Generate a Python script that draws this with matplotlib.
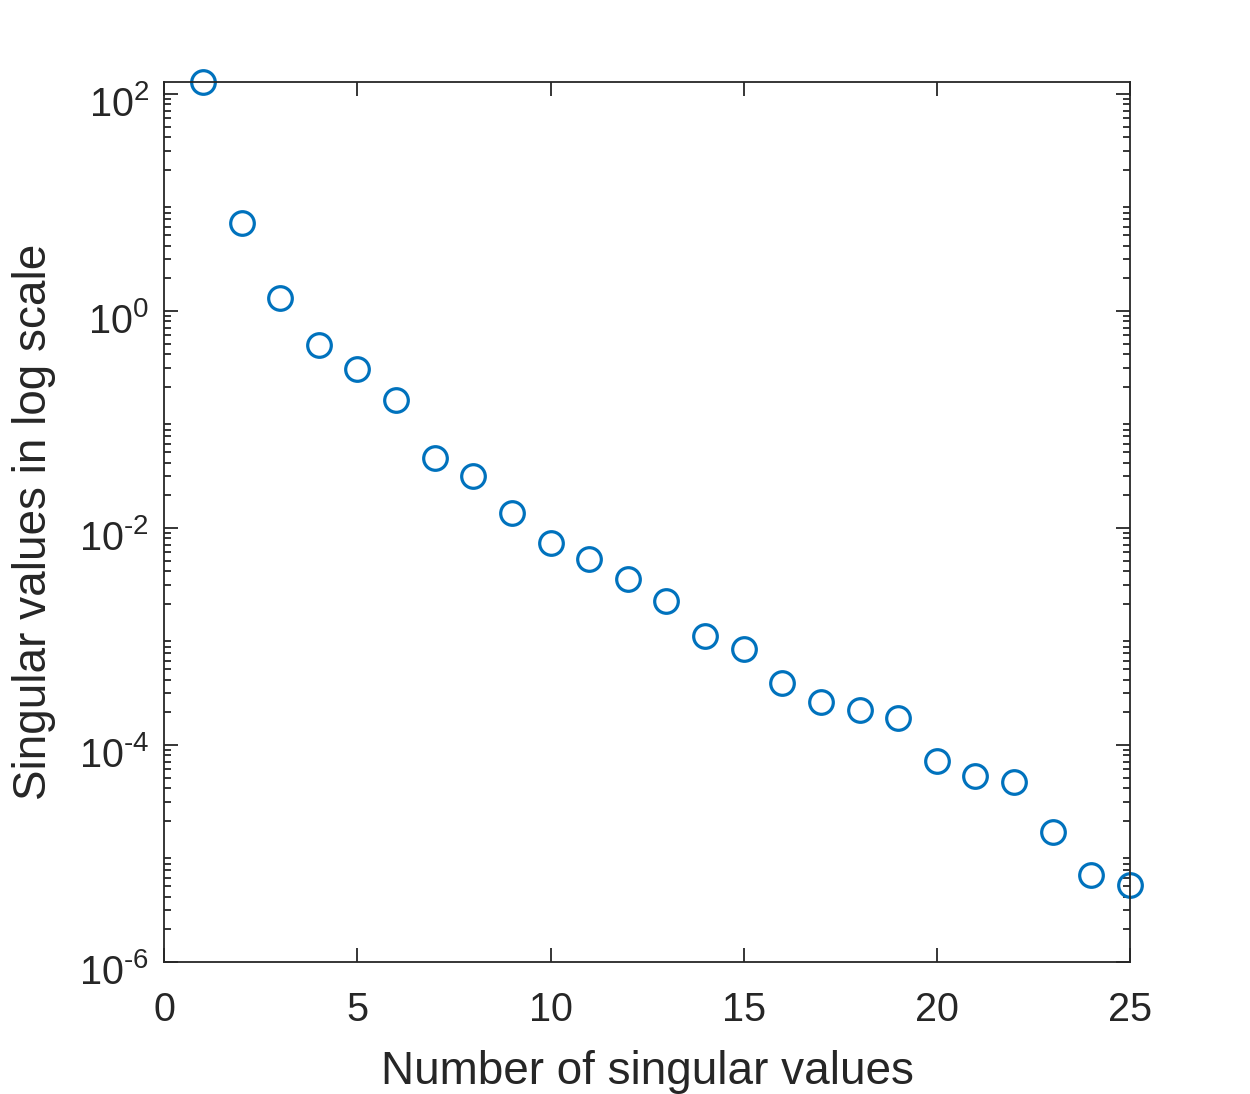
import matplotlib
matplotlib.use("Agg")
import matplotlib.pyplot as plt
import matplotlib.transforms as mtransforms
from matplotlib.ticker import LogLocator, NullFormatter

plt.rcParams['font.family'] = ['Liberation Sans', 'DejaVu Sans']
plt.rcParams['mathtext.fontset'] = 'custom'
plt.rcParams['mathtext.rm'] = 'Liberation Sans'
plt.rcParams['mathtext.it'] = 'Liberation Sans'
plt.rcParams['axes.unicode_minus'] = False

index = list(range(1, 26))
singular_values = [129, 6.45, 1.32, 0.489, 0.294, 0.152, 0.0445, 0.0304, 0.0136,
                   0.00734, 0.00512, 0.00342, 0.00214, 0.00102, 0.000759, 0.000369,
                   0.000247, 0.000208, 0.000176, 7.06e-5, 5.14e-5, 4.53e-5,
                   1.57e-5, 6.30e-6, 5.10e-6]
xticks = [0, 5, 10, 15, 20, 25]
yticks = [1e-6, 1e-4, 1e-2, 1e0, 1e2]
ytick_exponents = ['\u2010' + '6', '\u2010' + '4', '\u2010' + '2', '0', '2']
ytick_labels = [r'$\mathregular{10^{%s}}$' % e for e in ytick_exponents]

axcol = '#262626'
fig = plt.figure(figsize=(12.5, 10.94), dpi=100)
ax = fig.add_axes([0.1314, 0.1207, 0.7726, 0.8044])
ax.plot(index, singular_values, 'o', markerfacecolor='none', markeredgecolor='#0072BD',
        markersize=17, markeredgewidth=2.3, clip_on=False)
ax.set_yscale('log')
ax.set_xlim(0, 25)
ax.set_ylim(1e-6, 129)
ax.set_xticks(xticks)
ax.set_yticks(yticks)
ax.set_yticklabels(ytick_labels)
ax.yaxis.set_minor_locator(LogLocator(base=10, subs=range(2, 10), numticks=100))
ax.yaxis.set_minor_formatter(NullFormatter())
ax.tick_params(which='both', direction='in', top=True, right=True, colors=axcol,
               labelcolor=axcol, labelsize=28.5, width=1.3)
ax.tick_params(which='major', length=10)
ax.tick_params(axis='x', which='major', pad=21)
ax.tick_params(axis='y', which='major', pad=11)
ax.tick_params(which='minor', length=5)
shift = mtransforms.ScaledTranslation(0, -5 / 72, fig.dpi_scale_trans)
for lab in ax.get_yticklabels():
    lab.set_transform(lab.get_transform() + shift)
for s in ax.spines.values():
    s.set_color(axcol)
    s.set_linewidth(1.3)
ax.set_xlabel('Number of singular values', fontsize=33, color=axcol, labelpad=15)
ax.set_ylabel('Singular values in log scale', fontsize=33, color=axcol, labelpad=16)
fig.savefig('out.png', dpi=100)
